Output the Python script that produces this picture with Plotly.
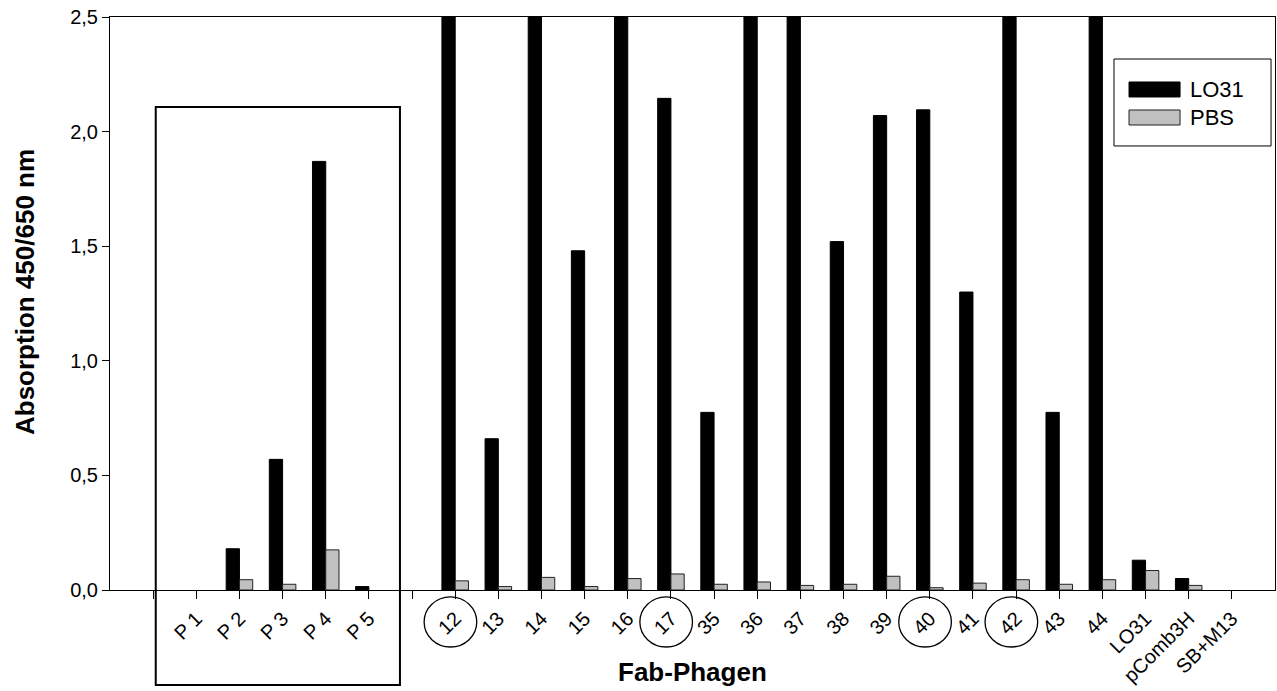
import plotly.graph_objects as go

# ---- data ----
categories = ["gap_a", "P 1", "P 2", "P 3", "P 4", "P 5", "gap_b",
              "12", "13", "14", "15", "16", "17", "35", "36", "37", "38",
              "39", "40", "41", "42", "43", "44", "LO31", "pComb3H", "SB+M13"]
tick_labels = ["", "P 1", "P 2", "P 3", "P 4", "P 5", "",
               "12", "13", "14", "15", "16", "17", "35", "36", "37", "38",
               "39", "40", "41", "42", "43", "44", "LO31", "pComb3H", "SB+M13"]
lo31_values = [None, None, 0.18, 0.57, 1.87, 0.015, None,
               2.5, 0.66, 2.5, 1.48, 2.5, 2.145, 0.775, 2.5, 2.5, 1.52,
               2.07, 2.095, 1.30, 2.5, 0.775, 2.5, 0.13, 0.05, None]
pbs_values = [None, None, 0.045, 0.025, 0.175, None, None,
              0.04, 0.015, 0.055, 0.015, 0.05, 0.07, 0.025, 0.035, 0.02, 0.025,
              0.06, 0.01, 0.03, 0.045, 0.025, 0.045, 0.085, 0.02, None]
circled = ["12", "17", "40", "42"]
series_names = ["LO31", "PBS"]
y_ticks = [0, 0.5, 1.0, 1.5, 2.0, 2.5]

FONT = "Liberation Sans, Arial, sans-serif"
x_idx = list(range(len(categories)))

fig = go.Figure()
fig.add_trace(go.Bar(x=x_idx, y=lo31_values, name=series_names[0],
                     marker=dict(color="black", line=dict(color="black", width=1)),
                     showlegend=False))
fig.add_trace(go.Bar(x=x_idx, y=pbs_values, name=series_names[1],
                     marker=dict(color="#c0c0c0", line=dict(color="#222222", width=1)),
                     showlegend=False))

shapes = []
for c in circled:
    i = categories.index(c)
    shapes.append(dict(type="circle", xref="x", yref="paper",
                       x0=i - 0.72, x1=i + 0.5, y0=-0.0995, y1=-0.012,
                       line=dict(color="black", width=1.3)))
shapes.append(dict(type="rect", xref="x", yref="paper",
                   x0=0.06, x1=5.72, y0=-0.166, y1=0.843,
                   line=dict(color="black", width=2)))
# custom legend
shapes.append(dict(type="rect", xref="paper", yref="paper",
                   x0=0.8618, x1=0.9966, y0=0.7749, y1=0.9267,
                   line=dict(color="black", width=1), fillcolor="white"))
shapes.append(dict(type="rect", xref="paper", yref="paper",
                   x0=0.8747, x1=0.9185, y0=0.8604, y1=0.8866,
                   line=dict(color="black", width=1), fillcolor="black"))
shapes.append(dict(type="rect", xref="paper", yref="paper",
                   x0=0.8747, x1=0.9185, y0=0.8115, y1=0.8377,
                   line=dict(color="#222222", width=1), fillcolor="#c0c0c0"))

annotations = [
    dict(text=series_names[0], xref="paper", yref="paper", x=0.9253, y=0.8736,
         xanchor="left", yanchor="middle", showarrow=False,
         font=dict(family=FONT, size=22, color="black")),
    dict(text=series_names[1], xref="paper", yref="paper", x=0.9253, y=0.8246,
         xanchor="left", yanchor="middle", showarrow=False,
         font=dict(family=FONT, size=22, color="black")),
    dict(text="<b>Fab-Phagen</b>", xref="paper", yref="paper", x=0.5, y=-0.143,
         xanchor="center", yanchor="middle", showarrow=False,
         font=dict(family=FONT, size=26, color="black")),
    dict(text="<b>Absorption 450/650 nm</b>", xref="paper", yref="paper",
         x=-0.073, y=0.52, xanchor="center", yanchor="middle", textangle=-90,
         showarrow=False, font=dict(family=FONT, size=26, color="black")),
]

fig.update_layout(
    width=1277, height=691,
    margin=dict(l=110, r=2, t=17, b=101),
    paper_bgcolor="white", plot_bgcolor="white",
    barmode="group", bargap=0.385, bargroupgap=0,
    separators=",.",
    font=dict(family=FONT, size=20, color="black"),
    shapes=shapes, annotations=annotations,
    showlegend=False,
    xaxis=dict(
        range=[-1, 26], tickmode="array", tickvals=x_idx, ticktext=tick_labels,
        tickangle=-45, ticks="outside", ticklen=8, tickcolor="black",
        showline=True, linecolor="black", linewidth=1, mirror=True,
        showgrid=False, zeroline=False,
        tickfont=dict(family=FONT, size=20, color="black"),
    ),
    yaxis=dict(
        range=[0, 2.5], tickmode="array", tickvals=y_ticks, tickformat=".1f",
        ticks="outside", ticklen=7, tickcolor="black",
        showline=True, linecolor="black", linewidth=1, mirror=True,
        showgrid=False, zeroline=False,
        tickfont=dict(family=FONT, size=20, color="black"),
    ),
)

fig.write_html("out.html")
